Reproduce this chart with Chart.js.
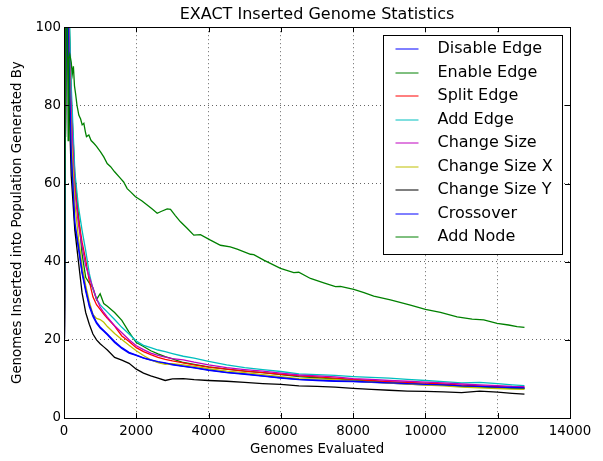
<!DOCTYPE html>
<html><head><meta charset="utf-8">
<script src="https://cdn.jsdelivr.net/npm/chart.js@4/dist/chart.umd.min.js"></script>
<style>html,body{margin:0;padding:0;background:#fff;}</style>
</head><body>
<canvas id="c" width="603" height="461"></canvas>
<script>
const chartTitle = 'EXACT Inserted Genome Statistics';
const xTitle = 'Genomes Evaluated';
const yTitle = 'Genomes Inserted into Population Generated By';
const xTicks = [0, 2000, 4000, 6000, 8000, 10000, 12000, 14000];
const yTicks = [0, 20, 40, 60, 80, 100];

const genomes = [0, 80, 100, 200, 300, 400, 500, 600, 700, 800, 900, 1000, 1100, 1200, 1400, 1600, 1800, 2000, 2200, 2400, 2600, 2800, 3000, 3300, 3600, 4000, 4500, 5000, 5500, 6000, 6500, 7000, 7500, 8000, 8500, 9000, 9500, 10000, 10500, 11000, 11500, 12000, 12400, 12740];

const disableEdge = [0, 150, 110, 70, 49, 43.5, 37, 32.5, 28.5, 26, 24.2, 23, 22.2, 21.3, 19.3, 17.8, 16.6, 16, 15.3, 14.8, 14.3, 14, 13.6, 13.2, 12.8, 12.2, 11.6, 11.2, 10.7, 10.2, 9.8, 9.6, 9.4, 9.3, 9.1, 8.9, 8.7, 8.5, 8.4, 8.1, 8.0, 7.8, 7.7, 7.6];
const enableEdge = [0, 150, 118, 82, 62, 52, 42, 36, 34.5, 33.3, 30.3, 31.8, 29.3, 28.6, 27, 25, 22, 19.3, 18.3, 17.2, 16.4, 15.7, 15.1, 14.2, 13.7, 13.1, 12.5, 12, 11.6, 11.1, 10.6, 10.3, 10, 9.7, 9.4, 9.1, 8.9, 8.6, 8.4, 8.1, 7.9, 7.7, 7.6, 7.5];
const splitEdge = [0, 150, 115, 80, 60, 51, 45, 40.5, 35, 31, 29, 27.8, 26.6, 25.5, 23.5, 21, 19.6, 18, 17, 16.2, 15.5, 15, 14.6, 14.1, 13.6, 13, 12.5, 12, 11.6, 11.2, 10.8, 10.5, 10.2, 9.9, 9.6, 9.3, 9.1, 8.9, 8.7, 8.4, 8.2, 8.0, 7.9, 7.8];
const addEdge = [0, 150, 120, 85, 63, 54, 48, 42.8, 37, 33, 30.5, 29, 28, 27.1, 25.2, 23.2, 21.5, 19.7, 18.6, 18, 17.4, 17, 16.5, 15.8, 15.3, 14.5, 13.6, 12.9, 12.4, 11.9, 11.3, 11.1, 10.9, 10.6, 10.4, 10.2, 9.9, 9.6, 9.3, 9.0, 9.1, 8.8, 8.5, 8.3];
const changeSize = [0, 150, 112, 78, 58, 49.5, 44, 39, 36, 33.3, 30.5, 28.4, 27, 25.8, 23.6, 21.8, 20, 18.5, 17.5, 16.6, 16, 15.6, 15.2, 14.9, 14.3, 13.6, 12.9, 12.4, 12, 11.5, 11.0, 10.8, 10.5, 10.1, 9.9, 9.6, 9.4, 9.2, 9.0, 8.7, 8.5, 8.3, 8.1, 8.0];
const changeSizeX = [0, 150, 108, 72, 55, 46, 39, 34, 29.8, 26.5, 25.5, 25.2, 24.5, 23.4, 21.6, 20.1, 18.6, 17.2, 16, 14.9, 14.2, 13.7, 13.9, 13.6, 13.2, 12.6, 12, 11.6, 11.1, 10.6, 10.1, 10.0, 9.8, 9.5, 9.2, 8.9, 8.7, 8.4, 8.2, 7.9, 7.7, 7.5, 7.4, 7.3];
const changeSizeY = [0, 150, 95, 62, 48, 40, 32, 27, 24, 21.5, 20, 19, 18.2, 17.4, 15.5, 14.8, 14, 12.5, 11.5, 10.8, 10.2, 9.6, 10, 10.1, 9.8, 9.6, 9.4, 9.1, 8.8, 8.6, 8.2, 8.1, 7.9, 7.6, 7.3, 7.1, 6.9, 6.8, 6.7, 6.5, 6.9, 6.6, 6.3, 6.1];
const crossover = [0, 150, 108, 68, 50, 44, 37.5, 33, 29, 26.5, 24.5, 23.3, 22.4, 21.5, 19.6, 18, 16.8, 16.1, 15.4, 14.9, 14.4, 14.1, 13.7, 13.3, 12.9, 12.3, 11.7, 11.3, 10.8, 10.3, 9.9, 9.7, 9.5, 9.4, 9.2, 9.0, 8.8, 8.6, 8.5, 8.2, 8.1, 7.9, 7.8, 7.7];

const addNodeGenomes = [0, 70, 100, 115, 135, 160, 200, 230, 260, 290, 320, 360, 410, 460, 503, 549, 590, 622, 687, 750, 825, 900, 1010, 1100, 1195, 1290, 1400, 1563, 1650, 1748, 1850, 1978, 2150, 2301, 2450, 2578, 2700, 2855, 2947, 3080, 3223, 3400, 3591, 3775, 4053, 4329, 4600, 4791, 5159, 5251, 5527, 5989, 6357, 6495, 6819, 7187, 7510, 7648, 8017, 8300, 8570, 9032, 9585, 10000, 10415, 10877, 11292, 11614, 11983, 12300, 12536, 12740];
const addNode = [0, 150, 96, 71, 92, 93, 91, 88, 90, 85, 83, 80, 77.5, 76.5, 75, 75.4, 73.3, 72, 72.4, 71, 70.3, 69.5, 68.1, 66.8, 65.1, 64.3, 63, 61.3, 60.4, 58.7, 57.8, 56.6, 55.6, 54.5, 53.4, 52.4, 52.9, 53.5, 53.4, 51.8, 50.2, 48.6, 46.8, 46.9, 45.5, 44.2, 43.8, 43.2, 41.9, 41.8, 40.4, 38.3, 37.2, 37.3, 35.7, 34.6, 33.6, 33.7, 32.9, 32.1, 31.2, 30.2, 28.9, 27.8, 27, 25.9, 25.3, 25.1, 24.2, 23.8, 23.4, 23.2];

const seriesNames = ['Disable Edge', 'Enable Edge', 'Split Edge', 'Add Edge', 'Change Size', 'Change Size X', 'Change Size Y', 'Crossover', 'Add Node'];
const seriesX = [genomes, genomes, genomes, genomes, genomes, genomes, genomes, genomes, addNodeGenomes];
const seriesValues = [disableEdge, enableEdge, splitEdge, addEdge, changeSize, changeSizeX, changeSizeY, crossover, addNode];
const seriesColors = ['#0000ff', '#008000', '#ff0000', '#00bfbf', '#bf00bf', '#bfbf00', '#000000', '#0000ff', '#008000'];

Chart.defaults.font.family = '"DejaVu Sans", sans-serif';
Chart.defaults.color = '#000';

const FONT = '"DejaVu Sans", sans-serif';

const datasets = seriesNames.map((name, i) => ({
  label: name,
  data: seriesX[i].map((g, j) => ({x: g, y: seriesValues[i][j]})),
  borderColor: seriesColors[i],
  backgroundColor: seriesColors[i],
  borderWidth: 1.3,
  pointRadius: 0,
  tension: 0,
  fill: false,
  order: seriesNames.length - i
}));

const framePlugin = {
  id: 'frame',
  afterDatasetsDraw(chart) {
    const {ctx, chartArea: a, scales} = chart;
    ctx.save();
    ctx.strokeStyle = '#000';
    ctx.lineWidth = 1;
    ctx.strokeRect(Math.round(a.left) + 0.5, Math.round(a.top) + 0.5, Math.round(a.right - a.left), Math.round(a.bottom - a.top));
    const tl = 5;
    ctx.beginPath();
    xTicks.forEach(v => {
      const px = Math.round(scales.x.getPixelForValue(v)) + 0.5;
      ctx.moveTo(px, a.bottom); ctx.lineTo(px, a.bottom - tl);
      ctx.moveTo(px, a.top); ctx.lineTo(px, a.top + tl);
    });
    yTicks.forEach(v => {
      const py = Math.round(scales.y.getPixelForValue(v)) + 0.5;
      ctx.moveTo(a.left, py); ctx.lineTo(a.left + tl, py);
      ctx.moveTo(a.right, py); ctx.lineTo(a.right - tl, py);
    });
    ctx.stroke();
    ctx.restore();
  }
};

const legendPlugin = {
  id: 'boxLegend',
  afterDraw(chart) {
    const {ctx, chartArea: a} = chart;
    const w = 179, h = 219;
    const left = Math.round(a.right - 8 - w) + 0.5;
    const top = Math.round(a.top + 8) + 0.5;
    ctx.save();
    ctx.fillStyle = '#fff';
    ctx.fillRect(left, top, w, h);
    ctx.strokeStyle = '#000';
    ctx.lineWidth = 1;
    ctx.strokeRect(left, top, w, h);
    ctx.font = '16px ' + FONT;
    ctx.textBaseline = 'middle';
    ctx.textAlign = 'left';
    chart.data.datasets.forEach((ds, i) => {
      const cy = Math.round(top + 13.5 + i * 23.5);
      ctx.strokeStyle = ds.borderColor;
      ctx.lineWidth = 1;
      ctx.beginPath();
      ctx.moveTo(left + 12, cy); ctx.lineTo(left + 35, cy);
      ctx.stroke();
      ctx.fillStyle = '#000';
      ctx.fillText(ds.label, left + 54, cy);
    });
    ctx.restore();
  }
};

new Chart(document.getElementById('c'), {
  type: 'line',
  data: { datasets },
  options: {
    responsive: false,
    animation: false,
    devicePixelRatio: 1,
    layout: { padding: { left: 0, right: 33, top: 0, bottom: 0 } },
    plugins: {
      legend: { display: false },
      tooltip: { enabled: false },
      title: {
        display: true,
        fullSize: false,
        text: chartTitle,
        color: '#000',
        font: { family: FONT, size: 16, weight: 'normal', lineHeight: 1.2 },
        padding: { top: 5, bottom: 3 }
      }
    },
    scales: {
      x: {
        type: 'linear',
        min: 0, max: 14000,
        afterFit(s) { s.height = 43; },
        afterBuildTicks(s) { s.ticks = xTicks.map(v => ({value: v})); },
        ticks: { font: { family: FONT, size: 13.33 }, color: '#000', padding: 6, maxRotation: 0, autoSkip: false,
                 callback: v => String(v) },
        grid: { color: 'rgba(0,0,0,0.6)', lineWidth: 1, drawTicks: false },
        border: { display: false, dash: [1, 3] },
        title: { display: true, text: xTitle, color: '#000', font: { family: FONT, size: 13.33, lineHeight: 1.2 }, padding: { top: 0, bottom: 3 } }
      },
      y: {
        type: 'linear',
        min: 0, max: 100,
        afterFit(s) { s.width = 64; },
        afterBuildTicks(s) { s.ticks = yTicks.map(v => ({value: v})); },
        ticks: { font: { family: FONT, size: 13.33 }, color: '#000', padding: 3, autoSkip: false,
                 callback: v => String(v) },
        grid: { color: 'rgba(0,0,0,0.6)', lineWidth: 1, drawTicks: false },
        border: { display: false, dash: [1, 3] },
        title: { display: true, text: yTitle, color: '#000', font: { family: FONT, size: 13.33, lineHeight: 1.2 }, padding: { top: 10, bottom: 0 } }
      }
    }
  },
  plugins: [framePlugin, legendPlugin]
});
</script>
</body></html>
